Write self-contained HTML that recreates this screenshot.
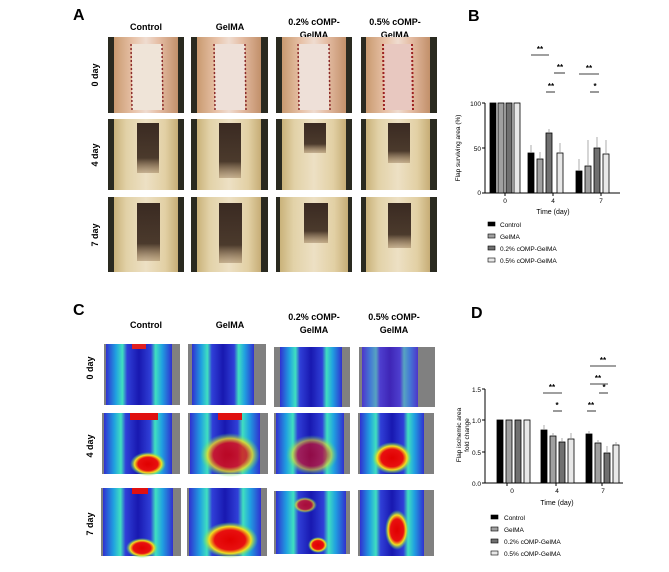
<!DOCTYPE html>
<html><head><style>
html,body{margin:0;padding:0;background:#fff;}
svg{display:block;font-family:"Liberation Sans",sans-serif;}
</style></head><body>
<svg width="669" height="572" viewBox="0 0 669 572" xmlns="http://www.w3.org/2000/svg">
<defs>
<linearGradient id="skin" x1="0" x2="1"><stop offset="0" stop-color="#c9b27a"/><stop offset="0.2" stop-color="#e2d2a8"/><stop offset="0.5" stop-color="#ede0c4"/><stop offset="0.8" stop-color="#e2d0a4"/><stop offset="1" stop-color="#c6ad76"/></linearGradient>
<linearGradient id="skin0" x1="0" x2="1"><stop offset="0" stop-color="#c99a70"/><stop offset="0.3" stop-color="#e8c2a8"/><stop offset="0.5" stop-color="#efdcd0"/><stop offset="0.7" stop-color="#e5bda4"/><stop offset="1" stop-color="#c2906a"/></linearGradient>
<linearGradient id="nec" x1="0" y1="0" x2="0" y2="1"><stop offset="0" stop-color="#3a2a22"/><stop offset="0.7" stop-color="#4b3a2c"/><stop offset="1" stop-color="#8a6a48" stop-opacity="0.4"/></linearGradient>
<linearGradient id="heat" x1="0" x2="1"><stop offset="0" stop-color="#3030d0"/><stop offset="0.15" stop-color="#20a0e0"/><stop offset="0.25" stop-color="#40e0c0"/><stop offset="0.32" stop-color="#3040d8"/><stop offset="0.5" stop-color="#1818b0"/><stop offset="0.68" stop-color="#3040d8"/><stop offset="0.75" stop-color="#40e0c0"/><stop offset="0.85" stop-color="#20a0e0"/><stop offset="1" stop-color="#3030d0"/></linearGradient>
<radialGradient id="hot" cx="0.5" cy="0.5" r="0.5"><stop offset="0" stop-color="#e00000"/><stop offset="0.55" stop-color="#e81010"/><stop offset="0.75" stop-color="#f0e020"/><stop offset="1" stop-color="#40e080" stop-opacity="0"/></radialGradient>
</defs>

<!-- Panel A -->
<text x="73" y="20" font-size="16" font-weight="bold">A</text>
<g font-size="9" font-weight="bold" text-anchor="middle">
<text x="146" y="30">Control</text>
<text x="230" y="30">GelMA</text>
<text x="314" y="25">0.2% cOMP-</text><text x="314" y="38">GelMA</text>
<text x="395" y="25">0.5% cOMP-</text><text x="395" y="38">GelMA</text>
</g>
<g font-size="9" font-weight="bold">
<text transform="translate(98,75) rotate(-90)" text-anchor="middle">0 day</text>
<text transform="translate(98,155) rotate(-90)" text-anchor="middle">4 day</text>
<text transform="translate(98,235) rotate(-90)" text-anchor="middle">7 day</text>
</g>
<g id="photos">
<!-- row 0 -->
<g><rect x="108" y="37" width="76" height="76" fill="#2a2a20"/><rect x="114" y="37" width="64" height="76" fill="url(#skin0)"/><rect x="132" y="44" width="30" height="66" fill="#efe4d8"/><line x1="131" y1="44" x2="132" y2="110" stroke="#8b2a2a" stroke-width="1.5" stroke-dasharray="2 2"/><line x1="162" y1="44" x2="163" y2="110" stroke="#8b2a2a" stroke-width="1.5" stroke-dasharray="2 2"/></g>
<g><rect x="191" y="37" width="77" height="76" fill="#2a2a20"/><rect x="197" y="37" width="64" height="76" fill="url(#skin0)"/><rect x="215" y="44" width="30" height="66" fill="#eee0d8"/><line x1="214" y1="44" x2="215" y2="110" stroke="#8b2a2a" stroke-width="1.5" stroke-dasharray="2 2"/><line x1="245" y1="44" x2="246" y2="110" stroke="#8b2a2a" stroke-width="1.5" stroke-dasharray="2 2"/></g>
<g><rect x="276" y="37" width="76" height="76" fill="#2a2a20"/><rect x="282" y="37" width="64" height="76" fill="url(#skin0)"/><rect x="299" y="44" width="30" height="66" fill="#eee0d8"/><line x1="298" y1="44" x2="299" y2="110" stroke="#8b2a2a" stroke-width="1.5" stroke-dasharray="2 2"/><line x1="329" y1="44" x2="330" y2="110" stroke="#8b2a2a" stroke-width="1.5" stroke-dasharray="2 2"/></g>
<g><rect x="361" y="37" width="76" height="76" fill="#2a2a20"/><rect x="366" y="37" width="64" height="76" fill="url(#skin0)"/><rect x="384" y="44" width="28" height="66" fill="#e8c8c0"/><line x1="383" y1="44" x2="384" y2="110" stroke="#9b2020" stroke-width="2" stroke-dasharray="2 2"/><line x1="412" y1="44" x2="413" y2="110" stroke="#9b2020" stroke-width="2" stroke-dasharray="2 2"/></g>
<!-- row 4 -->
<g><rect x="108" y="119" width="76" height="71" fill="#2a2a20"/><rect x="114" y="119" width="64" height="71" fill="url(#skin)"/><rect x="137" y="123" width="22" height="50" fill="url(#nec)"/></g>
<g><rect x="191" y="119" width="77" height="71" fill="#2a2a20"/><rect x="197" y="119" width="64" height="71" fill="url(#skin)"/><rect x="219" y="123" width="22" height="55" fill="url(#nec)"/></g>
<g><rect x="276" y="119" width="76" height="71" fill="#2a2a20"/><rect x="282" y="119" width="64" height="71" fill="url(#skin)"/><rect x="304" y="123" width="22" height="30" fill="url(#nec)"/></g>
<g><rect x="361" y="119" width="76" height="71" fill="#2a2a20"/><rect x="366" y="119" width="64" height="71" fill="url(#skin)"/><rect x="388" y="123" width="22" height="40" fill="url(#nec)"/></g>
<!-- row 7 -->
<g><rect x="108" y="197" width="76" height="75" fill="#2a2a20"/><rect x="114" y="197" width="64" height="75" fill="url(#skin)"/><rect x="137" y="203" width="23" height="58" fill="url(#nec)"/></g>
<g><rect x="191" y="197" width="77" height="75" fill="#2a2a20"/><rect x="197" y="197" width="64" height="75" fill="url(#skin)"/><rect x="219" y="203" width="23" height="60" fill="url(#nec)"/></g>
<g><rect x="276" y="197" width="76" height="75" fill="#2a2a20"/><rect x="280" y="197" width="68" height="75" fill="url(#skin)"/><rect x="304" y="203" width="24" height="40" fill="url(#nec)"/></g>
<g><rect x="361" y="197" width="76" height="75" fill="#2a2a20"/><rect x="366" y="197" width="64" height="75" fill="url(#skin)"/><rect x="388" y="203" width="23" height="45" fill="url(#nec)"/></g>
</g>

<!-- Panel B -->
<text x="468" y="21" font-size="16" font-weight="bold">B</text>
<g stroke="#000" stroke-width="1">
<line x1="485" y1="103" x2="485" y2="193"/><line x1="485" y1="193" x2="620" y2="193"/>
<line x1="482" y1="103" x2="485" y2="103"/><line x1="482" y1="148" x2="485" y2="148"/><line x1="482" y1="193" x2="485" y2="193"/>
<line x1="505" y1="193" x2="505" y2="196"/><line x1="553" y1="193" x2="553" y2="196"/><line x1="601" y1="193" x2="601" y2="196"/>
</g>
<g font-size="6.5" text-anchor="end"><text x="481" y="106">100</text><text x="481" y="151">50</text><text x="481" y="195">0</text></g>
<text transform="translate(460,148) rotate(-90)" font-size="6.5" text-anchor="middle">Flap surviving area (%)</text>
<g font-size="6.5" text-anchor="middle"><text x="505" y="203">0</text><text x="553" y="203">4</text><text x="601" y="203">7</text></g>
<text x="553" y="214" font-size="7" text-anchor="middle">Time (day)</text>
<g stroke="#000" stroke-width="0.8">
<rect x="490" y="103" width="6" height="90" fill="#000"/><rect x="498" y="103" width="6" height="90" fill="#a0a0a0"/><rect x="506" y="103" width="6" height="90" fill="#707070"/><rect x="514" y="103" width="6" height="90" fill="#e8e8e8"/>
<rect x="528" y="153" width="6" height="40" fill="#000"/><rect x="537" y="159" width="6" height="34" fill="#a0a0a0"/><rect x="546" y="133" width="6" height="60" fill="#707070"/><rect x="557" y="153" width="6" height="40" fill="#e8e8e8"/>
<rect x="576" y="171" width="6" height="22" fill="#000"/><rect x="585" y="166" width="6" height="27" fill="#a0a0a0"/><rect x="594" y="148" width="6" height="45" fill="#707070"/><rect x="603" y="154" width="6" height="39" fill="#e8e8e8"/>
</g>
<g stroke="#888" stroke-width="0.7">
<line x1="531" y1="153" x2="531" y2="145"/><line x1="540" y1="159" x2="540" y2="152"/><line x1="549" y1="133" x2="549" y2="129"/><line x1="560" y1="153" x2="560" y2="143"/>
<line x1="579" y1="171" x2="579" y2="159"/><line x1="588" y1="166" x2="588" y2="140"/><line x1="597" y1="148" x2="597" y2="137"/><line x1="606" y1="154" x2="606" y2="140"/>
</g>
<g stroke="#000" stroke-width="0.8">
<line x1="531" y1="55" x2="549" y2="55"/><line x1="554" y1="73" x2="565" y2="73"/><line x1="546" y1="92" x2="555" y2="92"/>
<line x1="579" y1="74" x2="599" y2="74"/><line x1="590" y1="92" x2="599" y2="92"/>
</g>
<g font-size="8" font-weight="bold" text-anchor="middle">
<text x="540" y="52">**</text><text x="560" y="70">**</text><text x="551" y="89">**</text><text x="589" y="71">**</text><text x="595" y="89">*</text>
</g>
<g font-size="6.5">
<rect x="488" y="222" width="7" height="4" fill="#000" stroke="#000" stroke-width="0.6"/><text x="500" y="227">Control</text>
<rect x="488" y="234" width="7" height="4" fill="#a0a0a0" stroke="#000" stroke-width="0.6"/><text x="500" y="239">GelMA</text>
<rect x="488" y="246" width="7" height="4" fill="#707070" stroke="#000" stroke-width="0.6"/><text x="500" y="251">0.2% cOMP-GelMA</text>
<rect x="488" y="258" width="7" height="4" fill="#e8e8e8" stroke="#000" stroke-width="0.6"/><text x="500" y="263">0.5% cOMP-GelMA</text>
</g>

<!-- Panel C -->
<text x="73" y="315" font-size="16" font-weight="bold">C</text>
<g font-size="9" font-weight="bold" text-anchor="middle">
<text x="146" y="328">Control</text>
<text x="230" y="328">GelMA</text>
<text x="314" y="320">0.2% cOMP-</text><text x="314" y="333">GelMA</text>
<text x="394" y="320">0.5% cOMP-</text><text x="394" y="333">GelMA</text>
</g>
<g font-size="9" font-weight="bold">
<text transform="translate(93,368) rotate(-90)" text-anchor="middle">0 day</text>
<text transform="translate(93,446) rotate(-90)" text-anchor="middle">4 day</text>
<text transform="translate(93,524) rotate(-90)" text-anchor="middle">7 day</text>
</g>
<g>
<!-- row 0 -->
<rect x="104" y="344" width="76" height="61" fill="#808080"/><rect x="106" y="344" width="66" height="61" fill="url(#heat)"/><rect x="132" y="344" width="14" height="5" fill="#e02020"/>
<rect x="188" y="344" width="78" height="61" fill="#808080"/><rect x="192" y="344" width="62" height="61" fill="url(#heat)"/>
<rect x="274" y="347" width="76" height="60" fill="#808080"/><rect x="280" y="347" width="62" height="60" fill="url(#heat)"/>
<rect x="359" y="347" width="76" height="60" fill="#808080"/><rect x="362" y="347" width="56" height="60" fill="url(#heat)" opacity="0.9"/><rect x="362" y="347" width="56" height="60" fill="#8030d0" opacity="0.3"/>
<!-- row 4 -->
<rect x="102" y="413" width="78" height="61" fill="#808080"/><rect x="104" y="413" width="68" height="61" fill="url(#heat)"/><rect x="130" y="413" width="28" height="7" fill="#e01010"/><ellipse cx="148" cy="464" rx="18" ry="12" fill="url(#hot)"/>
<rect x="188" y="413" width="80" height="61" fill="#808080"/><rect x="190" y="413" width="70" height="61" fill="url(#heat)"/><ellipse cx="230" cy="455" rx="30" ry="22" fill="url(#hot)" opacity="0.8"/><rect x="218" y="413" width="24" height="7" fill="#e01010"/>
<rect x="274" y="413" width="76" height="61" fill="#808080"/><rect x="276" y="413" width="68" height="61" fill="url(#heat)"/><ellipse cx="312" cy="455" rx="26" ry="20" fill="url(#hot)" opacity="0.6"/>
<rect x="358" y="413" width="76" height="61" fill="#808080"/><rect x="360" y="413" width="64" height="61" fill="url(#heat)"/><ellipse cx="392" cy="458" rx="20" ry="16" fill="url(#hot)"/>
<!-- row 7 -->
<rect x="101" y="488" width="80" height="68" fill="#808080"/><rect x="103" y="488" width="70" height="68" fill="url(#heat)"/><ellipse cx="142" cy="548" rx="16" ry="10" fill="url(#hot)"/><rect x="132" y="488" width="16" height="6" fill="#e01010"/>
<rect x="187" y="488" width="80" height="68" fill="#808080"/><rect x="189" y="488" width="72" height="68" fill="url(#heat)"/><ellipse cx="230" cy="540" rx="28" ry="18" fill="url(#hot)"/>
<rect x="274" y="491" width="76" height="63" fill="#808080"/><rect x="276" y="491" width="70" height="63" fill="url(#heat)"/><ellipse cx="318" cy="545" rx="10" ry="8" fill="url(#hot)"/><ellipse cx="305" cy="505" rx="12" ry="8" fill="url(#hot)" opacity="0.7"/>
<rect x="358" y="490" width="76" height="66" fill="#808080"/><rect x="360" y="490" width="64" height="66" fill="url(#heat)"/><ellipse cx="397" cy="530" rx="12" ry="20" fill="url(#hot)"/>
</g>

<!-- Panel D -->
<text x="471" y="318" font-size="16" font-weight="bold">D</text>
<g stroke="#000" stroke-width="1">
<line x1="485" y1="389" x2="485" y2="483"/><line x1="485" y1="483" x2="623" y2="483"/>
<line x1="482" y1="389" x2="485" y2="389"/><line x1="482" y1="420" x2="485" y2="420"/><line x1="482" y1="452" x2="485" y2="452"/><line x1="482" y1="483" x2="485" y2="483"/>
<line x1="507" y1="483" x2="507" y2="486"/><line x1="556" y1="483" x2="556" y2="486"/><line x1="602" y1="483" x2="602" y2="486"/>
</g>
<g font-size="6.5" text-anchor="end"><text x="481" y="392">1.5</text><text x="481" y="423">1.0</text><text x="481" y="455">0.5</text><text x="481" y="486">0.0</text></g>
<text transform="translate(461,435) rotate(-90)" font-size="6.5" text-anchor="middle">Flap ischemic area</text>
<text transform="translate(469,435) rotate(-90)" font-size="6.5" text-anchor="middle">fold change</text>
<g font-size="6.5" text-anchor="middle"><text x="512" y="493">0</text><text x="557" y="493">4</text><text x="603" y="493">7</text></g>
<text x="557" y="505" font-size="7" text-anchor="middle">Time (day)</text>
<g stroke="#000" stroke-width="0.8">
<rect x="497" y="420" width="6" height="63" fill="#000"/><rect x="506" y="420" width="6" height="63" fill="#a0a0a0"/><rect x="515" y="420" width="6" height="63" fill="#707070"/><rect x="524" y="420" width="6" height="63" fill="#e8e8e8"/>
<rect x="541" y="430" width="6" height="53" fill="#000"/><rect x="550" y="436" width="6" height="47" fill="#a0a0a0"/><rect x="559" y="442" width="6" height="41" fill="#707070"/><rect x="568" y="439" width="6" height="44" fill="#e8e8e8"/>
<rect x="586" y="434" width="6" height="49" fill="#000"/><rect x="595" y="443" width="6" height="40" fill="#a0a0a0"/><rect x="604" y="453" width="6" height="30" fill="#707070"/><rect x="613" y="445" width="6" height="38" fill="#e8e8e8"/>
</g>
<g stroke="#888" stroke-width="0.7">
<line x1="544" y1="430" x2="544" y2="425"/><line x1="553" y1="436" x2="553" y2="433"/><line x1="562" y1="442" x2="562" y2="438"/><line x1="571" y1="439" x2="571" y2="433"/>
<line x1="589" y1="434" x2="589" y2="431"/><line x1="598" y1="443" x2="598" y2="440"/><line x1="607" y1="453" x2="607" y2="446"/><line x1="616" y1="445" x2="616" y2="442"/>
</g>
<g stroke="#000" stroke-width="0.8">
<line x1="543" y1="393" x2="562" y2="393"/><line x1="553" y1="411" x2="562" y2="411"/>
<line x1="590" y1="366" x2="616" y2="366"/><line x1="590" y1="384" x2="608" y2="384"/><line x1="599" y1="393" x2="608" y2="393"/><line x1="587" y1="411" x2="596" y2="411"/>
</g>
<g font-size="8" font-weight="bold" text-anchor="middle">
<text x="552" y="390">**</text><text x="557" y="408">*</text>
<text x="603" y="363">**</text><text x="598" y="381">**</text><text x="604" y="390">*</text><text x="591" y="408">**</text>
</g>
<g font-size="6.5">
<rect x="491" y="515" width="7" height="4" fill="#000" stroke="#000" stroke-width="0.6"/><text x="504" y="520">Control</text>
<rect x="491" y="527" width="7" height="4" fill="#a0a0a0" stroke="#000" stroke-width="0.6"/><text x="504" y="532">GelMA</text>
<rect x="491" y="539" width="7" height="4" fill="#707070" stroke="#000" stroke-width="0.6"/><text x="504" y="544">0.2% cOMP-GelMA</text>
<rect x="491" y="551" width="7" height="4" fill="#e8e8e8" stroke="#000" stroke-width="0.6"/><text x="504" y="556">0.5% cOMP-GelMA</text>
</g>
</svg>
</body></html>
